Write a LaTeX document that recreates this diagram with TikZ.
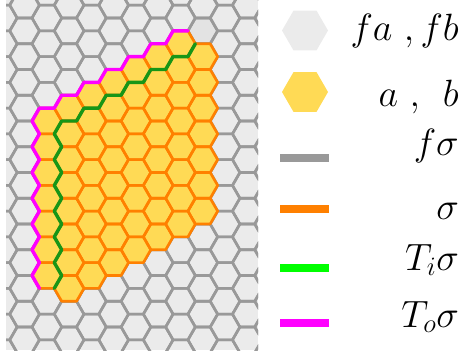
\RequirePackage{fix-cm}
\documentclass[tikz,border=0pt]{standalone}
\usepackage{tikz}
\usetikzlibrary{shapes.geometric}

\definecolor{cellgrey}{HTML}{EBEBEB}
\definecolor{topgrey}{HTML}{E3E3E3}
\definecolor{edgegrey}{HTML}{999999}
\definecolor{cellyellow}{HTML}{FFDA55}
\definecolor{edgeorange}{HTML}{FF8000}
\definecolor{innergreen}{HTML}{179617}
\definecolor{keygreen}{HTML}{00FF00}
\definecolor{outermagenta}{HTML}{FF00FF}

% flat-topped hexagon around (#1,#2), in pixel units
\newcommand{\hexcell}[2]{({#1+14.85},{#2}) -- ({#1+7.425},{#2+12.875})
  -- ({#1-7.425},{#2+12.875}) -- ({#1-14.85},{#2})
  -- ({#1-7.425},{#2-12.875}) -- ({#1+7.425},{#2-12.875}) -- cycle}

\begin{document}
\begin{tikzpicture}[
  x=1pt, y=-1pt,
  gridedge/.style={draw=edgegrey, line width=2.6pt, line join=round},
  sigmafill/.style={fill=cellyellow},
  sigmaedge/.style={draw=edgeorange, line width=2.6pt, line join=round},
  innerpath/.style={draw=innergreen, line width=3.4pt, line join=round, line cap=round},
  outerpath/.style={draw=outermagenta, line width=3.4pt, line join=round, line cap=round},
  keyhex/.style={regular polygon, regular polygon sides=6, minimum size=46pt, inner sep=0pt},
  keyline/.style={line width=8pt},
  keytext/.style={anchor=base east, inner sep=0pt, font=\fontsize{38}{44}\selectfont}
]
\useasboundingbox (0,0) rectangle (463,356);

% the grid
\begin{scope}
\clip (6,0) rectangle (258,350);
\fill[cellgrey] (6,0) rectangle (258,350);
\fill[topgrey] \hexcell{202.775}{30.875};
\foreach \i in {0,...,12} {
  \pgfmathsetmacro{\cx}{2.3+22.275*\i}
  \pgfmathsetmacro{\cy}{5.125+12.875*(1-mod(\i,2))}
  \foreach \r in {-1,...,14}
    \path[gridedge] \hexcell{\cx}{\cy+25.75*\r};
}
\end{scope}

% cells of sigma: fill first, then edges
\foreach \st in {sigmafill, sigmaedge} {
  \foreach \c/\ra/\rb in {1/4/10, 2/4/11, 3/3/10, 4/3/10, 5/2/9, 6/2/9, 7/1/8, 8/2/8} {
    \pgfmathsetmacro{\cx}{24.575+22.275*\c}
    \pgfmathsetmacro{\cy}{5.125+12.875*mod(\c,2)}
    \foreach \r in {\ra,...,\rb}
      \path[\st] \hexcell{\cx}{\cy+25.75*\r};
  }
}

% inner boundary
\path[innerpath] ({180.5+14.85},43.75)
  \foreach \c in {7,6,...,2} {
    -- ({24.575+22.275*\c+7.425},{121-12.875*(\c-1)+12.875})
    -- ({24.575+22.275*\c-7.425},{121-12.875*(\c-1)+12.875}) }
  \foreach \r in {5,...,10} {
    -- ({69.125-14.85},{5.125+25.75*\r})
    -- ({69.125-7.425},{5.125+25.75*\r+12.875}) }
  -- ({69.125-14.85},{5.125+25.75*11});

% outer boundary
\path[outerpath] ({46.85-7.425},288.375)
  \foreach \r in {10,9,...,4} {
    -- ({46.85-14.85},{18+25.75*\r})
    -- ({46.85-7.425},{18+25.75*\r-12.875}) }
  \foreach \c in {1,...,7} {
    -- ({24.575+22.275*\c-7.425},{121-12.875*\c})
    -- ({24.575+22.275*\c+7.425},{121-12.875*\c}) };

% legend
\node[keyhex, fill=cellgrey] (keyfab) at (305,30.5) {};
\node[keyhex, fill=cellyellow] (keyab) at (305,92) {};
\draw[keyline, edgegrey] (280,157.5) -- (329,157.5);
\draw[keyline, edgeorange] (280,208.5) -- (329,208.5);
\draw[keyline, keygreen] (280,268) -- (329,268);
\draw[keyline, outermagenta] (280,322.5) -- (329,322.5);

\node[keytext] (labfab) at (459,40) {$fa\ ,fb$};
\node[keytext] (labab) at (459,106.5) {$a\ {,}\ \ b$};
\node[keytext] (labfs) at (459,155) {$f\sigma$};
\node[keytext] (labs) at (459,219) {$\sigma$};
\node[keytext] (labti) at (459,270) {$T_i\sigma$};
\node[keytext] (labto) at (459,327) {$T_o\sigma$};
\end{tikzpicture}
\end{document}
